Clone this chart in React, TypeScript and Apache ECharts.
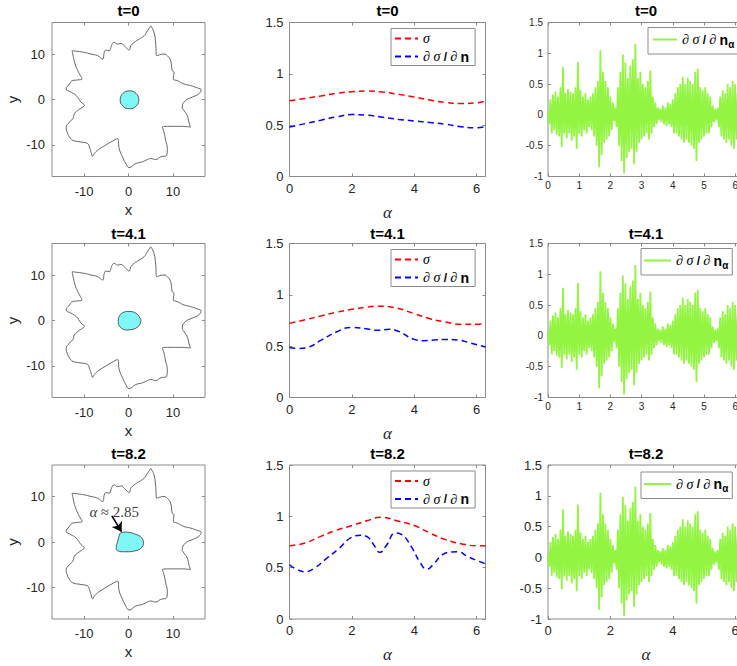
import React, { useEffect, useRef } from "react";
import * as echarts from "echarts";

// ---------- data ----------
const TITLES = ["t=0", "t=4.1", "t=8.2"];

// outer boundary (same in the three snapshots)
const STAR: [number, number][] = [
  [5.0, 16.26], [5.74, 14.8], [6.12, 12.23], [6.34, 9.67], [7.98, 10.04], [8.72, 9.67],
  [9.47, 8.57], [9.84, 6.37], [10.22, 6.0], [10.07, 4.54], [10.96, 4.18], [12.45, 3.44],
  [13.94, 3.08], [15.44, 2.56], [16.33, 2.12], [15.81, 1.25], [14.32, 0.51], [12.83, -0.22],
  [12.08, -1.68], [12.45, -2.42], [13.2, -3.52], [13.57, -4.98], [13.94, -6.08], [11.71, -5.93],
  [9.47, -5.93], [7.61, -6.08], [7.98, -7.18], [8.35, -9.01], [8.72, -10.84], [8.58, -12.31],
  [7.23, -12.67], [6.11, -13.26], [5.0, -13.04], [4.25, -13.26], [3.13, -13.77], [1.64, -14.14],
  [0.15, -15.02], [-0.6, -14.14], [-1.34, -12.67], [-2.09, -10.84], [-2.46, -8.64], [-3.95, -9.38],
  [-5.82, -10.48], [-6.94, -11.21], [-7.68, -11.94], [-8.05, -12.53], [-8.43, -11.58], [-8.8, -10.48],
  [-9.17, -9.74], [-10.66, -9.38], [-12.53, -9.01], [-13.27, -8.28], [-13.8, -7.18], [-14.02, -6.23],
  [-13.27, -4.98], [-12.53, -4.25], [-12.15, -3.15], [-11.41, -2.42], [-10.29, -1.68], [-9.92, -1.32],
  [-10.66, -0.59], [-11.78, 0.88], [-12.9, 1.61], [-14.02, 2.34], [-13.27, 3.44], [-12.53, 4.18],
  [-11.41, 4.32], [-10.44, 4.54], [-10.81, 5.27], [-11.41, 6.37], [-12.01, 7.84], [-12.38, 9.3],
  [-12.68, 10.77], [-11.41, 10.62], [-9.92, 10.4], [-8.43, 10.04], [-6.94, 9.67], [-5.82, 8.94],
  [-5.44, 10.4], [-5.07, 10.92], [-4.33, 10.77], [-3.95, 11.5], [-3.58, 12.38], [-3.21, 12.6],
  [-2.46, 12.23], [-1.72, 12.38], [-0.97, 11.87], [-0.37, 11.28], [0.15, 10.92], [0.52, 11.87],
  [1.27, 12.6], [2.39, 13.33], [3.5, 14.07], [4.25, 15.16],
];

// inner drop
const BLOB_T0: [number, number][] = [
  [0.22, 1.91], [1.7, 1.33], [2.31, -0.07], [1.7, -1.47], [0.22, -2.05], [-1.26, -1.47], [-1.87, -0.07], [-1.26, 1.33],
];
const BLOB_T41: [number, number][] = [
  [0.15, 2.0], [1.64, 1.63], [2.61, 0.52], [2.76, -0.22], [2.01, -1.48], [0.15, -2.07],
  [-1.34, -1.85], [-2.09, -1.11], [-2.31, -0.22], [-2.09, 0.89], [-1.34, 1.7],
];
const BLOB_T82: [number, number][] = [
  [-1.86, 1.93], [-0.22, 2.15], [1.64, 1.7], [2.91, 0.96], [3.36, -0.3], [2.76, -1.41],
  [1.27, -2.0], [-0.6, -2.15], [-2.46, -1.93], [-2.76, -1.19], [-2.46, 0.07], [-2.16, 1.19],
];
const BLOBS = [BLOB_T0, BLOB_T41, BLOB_T82];

const ANNOT_TEXT_POS: [number, number] = [-3.22, 6.67];
const ANNOT_ARROW_FROM: [number, number] = [-3.74, 5.78];
const ANNOT_ARROW_TO: [number, number] = [-1.57, 2.29];

// sigma and d sigma / d n along alpha
const SIGMA_T0: [number, number][] = [
  [0, 0.738], [0.5, 0.76], [1, 0.785], [1.5, 0.81], [2, 0.825], [2.5, 0.832], [3, 0.822], [3.5, 0.8],
  [4, 0.775], [4.5, 0.745], [5, 0.722], [5.5, 0.71], [6, 0.718], [6.283, 0.735],
];
const DSDN_T0: [number, number][] = [
  [0, 0.483], [0.5, 0.515], [1, 0.548], [1.5, 0.58], [2, 0.603], [2.5, 0.597], [3, 0.577], [3.5, 0.556],
  [4, 0.541], [4.5, 0.526], [5, 0.509], [5.5, 0.485], [6, 0.474], [6.283, 0.486],
];
const SIGMA_T41: [number, number][] = [
  [0, 0.722], [0.5, 0.757], [1, 0.794], [1.5, 0.83], [2, 0.859], [2.5, 0.882], [2.8, 0.89], [3.3, 0.879],
  [4, 0.817], [4.5, 0.768], [5, 0.735], [5.5, 0.713], [6, 0.713], [6.283, 0.72],
];
const DSDN_T41: [number, number][] = [
  [0, 0.488], [0.3, 0.478], [0.6, 0.49], [1, 0.556], [1.5, 0.638], [2, 0.683], [2.5, 0.668], [2.8, 0.654],
  [3.2, 0.664], [3.5, 0.644], [4, 0.566], [4.3, 0.553], [4.7, 0.562], [5, 0.566], [5.4, 0.56], [5.8, 0.53],
  [6.283, 0.491],
];
const SIGMA_T82: [number, number][] = [
  [0, 0.714], [0.5, 0.74], [1, 0.805], [1.5, 0.864], [2, 0.91], [2.5, 0.959], [2.9, 0.99], [3.5, 0.952],
  [4, 0.91], [4.5, 0.838], [5, 0.773], [5.5, 0.734], [6, 0.714], [6.283, 0.714],
];
const DSDN_T82: [number, number][] = [
  [0, 0.528], [0.25, 0.48], [0.5, 0.46], [0.8, 0.496], [1.2, 0.593], [1.6, 0.691], [2, 0.796], [2.3, 0.815],
  [2.5, 0.799], [2.7, 0.724], [2.9, 0.649], [3.1, 0.714], [3.4, 0.838], [3.6, 0.822], [3.9, 0.707], [4.2, 0.544],
  [4.4, 0.486], [4.6, 0.528], [4.9, 0.626], [5.2, 0.652], [5.4, 0.655], [5.7, 0.61], [6, 0.571], [6.283, 0.538],
];
const SIGMAS = [SIGMA_T0, SIGMA_T41, SIGMA_T82];
const DSDNS = [DSDN_T0, DSDN_T41, DSDN_T82];

// d sigma / d n_alpha sampled every NOISE_STEP in alpha
const NOISE_STEP = 0.04;
const NOISE: number[] = [
  0.05, -0.15, 0.25, -0.3, 0.33, -0.25, 0.38, -0.32, 0.3, -0.35,
  0.45, -0.52, 0.78, -0.3, 0.35, -0.38, 0.42, -0.3, 0.38, -0.42,
  0.35, -0.35, 0.45, -0.55, 0.86, -0.3, 0.4, -0.35, 0.3, -0.25,
  0.35, -0.3, 0.25, -0.2, 0.3, -0.25, 0.35, -0.35, 0.45, -0.5,
  0.55, -0.85, 1.05, -0.65, 0.7, -0.45, 0.55, -0.4, 0.45, -0.35,
  0.3, -0.25, 0.2, -0.1, 0.12, -0.2, 0.45, -0.5, 0.7, -0.75,
  0.98, -0.95, 0.85, -0.7, 0.6, -0.6, 0.8, -0.55, 0.9, -0.8,
  1.15, -0.6, 0.6, -0.45, 0.7, -0.4, 0.5, -0.35, 0.45, -0.3,
  0.55, -0.4, 0.72, -0.3, 0.3, -0.2, 0.2, -0.15, 0.12, -0.08,
  0.1, -0.12, 0.15, -0.15, 0.12, -0.18, 0.2, -0.15, 0.18, -0.2,
  0.25, -0.3, 0.35, -0.3, 0.45, -0.35, 0.5, -0.4, 0.62, -0.45,
  0.5, -0.4, 0.6, -0.45, 0.55, -0.5, 0.5, -0.55, 0.7, -0.75,
  0.75, -0.45, 0.45, -0.4, 0.4, -0.35, 0.45, -0.3, 0.35, -0.3,
  0.3, -0.2, 0.15, -0.12, 0.1, -0.08, 0.12, -0.2, 0.3, -0.35,
  0.4, -0.4, 0.35, -0.45, 0.5, -0.4, 0.45, -0.5, 0.55, -0.55,
  0.5, -0.4, 0.35, -0.3, 0.25, -0.2, 0.15, 0.05,
];

const SHAPE_TICKS = [-10, 0, 10];
const ALPHA_TICKS = [0, 2, 4, 6];
const ALPHA_TICKS_FINE = [0, 1, 2, 3, 4, 5, 6];
const SIGMA_TICKS = [0, 0.5, 1, 1.5];
const NOISE_TICKS = [-1, -0.5, 0, 0.5, 1, 1.5];

// ---------- layout / style ----------
const LEFTS = [52, 289.5, 548];
const WIDTHS = [153, 196, 196];
const TOPS = [22.5, 243.5, 465];
const HEIGHT = 154;
const TITLE_Y = [10.5, 233, 453.3];
const AX = "#8a8a8a";
const TXT = "#262626";
const SANS = '"Liberation Sans", Arial, Helvetica, sans-serif';
const SERIF = '"Liberation Serif", "Times New Roman", serif';
const CYAN = "#80f7f7";
const GREEN = "#93f542";

const RICH = {
  i: { fontFamily: SERIF, fontStyle: "italic", fontSize: 14, color: "#000" },
  s: { fontFamily: SANS, fontSize: 12, fontWeight: "bold", color: "#000" },
  b: { fontFamily: SANS, fontSize: 14, fontWeight: "bold", color: "#000" },
  sub: { fontFamily: SANS, fontSize: 10, fontWeight: "bold", color: "#000", verticalAlign: "bottom", padding: [9, 0, 0, 0] },
};

function legendFormatter(name: string) {
  if (name === "σ") return "{i|σ}";
  if (name === "dsdn") return "{i|∂ σ} {s|/} {i|∂} {b|n}";
  return "{i|∂ σ} {s|/} {i|∂} {b|n}{sub|α}";
}

function buildOption() {
  const grid: any[] = [];
  const xAxis: any[] = [];
  const yAxis: any[] = [];
  const series: any[] = [];
  const legend: any[] = [];
  const graphic: any[] = [];

  for (let r = 0; r < 3; r++) {
    for (let c = 0; c < 3; c++) {
      const g = r * 3 + c;
      grid.push({
        left: LEFTS[c], top: TOPS[r], width: WIDTHS[c], height: HEIGHT,
        show: true, borderColor: AX, borderWidth: 1, backgroundColor: "#fff",
      });
      const small = c === 2 && r < 2;
      const fs = small ? 10 : 13;
      let xr: number[], yr: number[], xt: number[], yt: number[];
      let xname = "", yname = "";
      let xNameStyle: any = {};
      let xGap = 25;
      let xMargin = 5, yMargin = 6;
      if (c === 0) {
        xr = [-17.2, 17.2]; yr = [-17, 17]; xt = SHAPE_TICKS; yt = SHAPE_TICKS;
        xname = "x"; yname = "y";
        xNameStyle = { fontFamily: SANS, fontSize: 15, color: TXT };
        xMargin = 8; yMargin = 7;
      } else if (c === 1) {
        xr = [0, 2 * Math.PI]; yr = [0, 1.5]; xt = ALPHA_TICKS; yt = SIGMA_TICKS;
        xname = "α";
        xNameStyle = { fontFamily: SERIF, fontStyle: "italic", fontSize: 17, color: TXT };
        xGap = 27;
      } else {
        xr = [0, 2 * Math.PI]; yr = [-1, 1.5];
        xt = small ? ALPHA_TICKS_FINE : ALPHA_TICKS; yt = NOISE_TICKS;
        if (!small) {
          xname = "α";
          xNameStyle = { fontFamily: SERIF, fontStyle: "italic", fontSize: 17, color: TXT };
          xGap = 27;
        }
        xMargin = small ? 4 : 5; yMargin = small ? 5 : 6;
      }
      const tick = (vals: number[]) => ({ inside: true, length: 3, lineStyle: { color: AX, width: 1 }, customValues: vals });
      xAxis.push({
        type: "value", gridIndex: g, position: "bottom", min: xr[0], max: xr[1],
        axisLine: { show: false, onZero: false }, splitLine: { show: false }, axisTick: tick(xt),
        axisLabel: { customValues: xt, fontSize: fs, color: TXT, fontFamily: SANS, margin: xMargin },
        name: xname, nameLocation: "middle", nameGap: xGap, nameTextStyle: xNameStyle,
      });
      xAxis.push({
        type: "value", gridIndex: g, position: "top", min: xr[0], max: xr[1],
        axisLine: { show: false, onZero: false }, splitLine: { show: false }, axisTick: tick(xt), axisLabel: { show: false },
      });
      yAxis.push({
        type: "value", gridIndex: g, position: "left", min: yr[0], max: yr[1],
        axisLine: { show: false, onZero: false }, splitLine: { show: false }, axisTick: tick(yt),
        axisLabel: { customValues: yt, fontSize: fs, color: TXT, fontFamily: SANS, margin: yMargin },
        name: yname, nameLocation: "middle", nameGap: 32,
        nameTextStyle: { fontFamily: SANS, fontSize: 15, color: TXT },
      });
      yAxis.push({
        type: "value", gridIndex: g, position: "right", min: yr[0], max: yr[1],
        axisLine: { show: false, onZero: false }, splitLine: { show: false }, axisTick: tick(yt), axisLabel: { show: false },
      });
      const xi = 2 * g, yi = 2 * g;

      graphic.push({
        type: "text", x: LEFTS[c] + WIDTHS[c] / 2, y: TITLE_Y[r], silent: true,
        style: { text: TITLES[r], font: `bold 15px ${SANS}`, fill: "#000", align: "center", verticalAlign: "middle", textAlign: "center", textVerticalAlign: "middle" },
      });

      if (c === 0) {
        series.push({
          type: "line", xAxisIndex: xi, yAxisIndex: yi, data: STAR.concat([STAR[0]]),
          symbol: "none", smooth: 0.5, lineStyle: { color: "#555", width: 0.9 }, silent: true, z: 2,
        });
        const blob = BLOBS[r];
        series.push({
          type: "custom", xAxisIndex: xi, yAxisIndex: yi, data: [[0, 0]], silent: true, z: 3,
          renderItem: (_p: any, api: any) => ({
            type: "polygon",
            shape: { points: blob.map((pt) => api.coord(pt)), smooth: 0.45 },
            style: { fill: CYAN, stroke: "#333", lineWidth: 0.8 },
          }),
        });
        if (r === 2) {
          series.push({
            type: "scatter", xAxisIndex: xi, yAxisIndex: yi, data: [ANNOT_TEXT_POS], symbolSize: 1,
            itemStyle: { color: "rgba(0,0,0,0)" }, silent: true, z: 5,
            label: {
              show: true, position: "inside", formatter: "{a|α} {b|≈ 2.85}",
              rich: {
                a: { fontFamily: SERIF, fontStyle: "italic", fontSize: 15, color: "#000" },
                b: { fontFamily: SERIF, fontSize: 15, color: "#000" },
              },
            },
            markLine: {
              silent: true, symbol: ["none", "arrow"], symbolSize: 9, animation: false,
              label: { show: false },
              lineStyle: { color: "#000", width: 1.6, type: "solid" },
              data: [[{ coord: ANNOT_ARROW_FROM }, { coord: ANNOT_ARROW_TO }]],
            },
          });
        }
      } else if (c === 1) {
        series.push({
          name: "σ", type: "line", xAxisIndex: xi, yAxisIndex: yi, data: SIGMAS[r], symbol: "none", smooth: 0.5,
          lineStyle: { color: "#ff0000", width: 1.5, type: [6, 4] }, itemStyle: { color: "#ff0000" },
        });
        series.push({
          name: "dsdn", type: "line", xAxisIndex: xi, yAxisIndex: yi, data: DSDNS[r], symbol: "none", smooth: 0.5,
          lineStyle: { color: "#0000ff", width: 1.5, type: [6, 4] }, itemStyle: { color: "#0000ff" },
        });
        legend.push({
          data: ["σ", "dsdn"], left: 391, top: TOPS[r] + 6, orient: "vertical",
          itemWidth: 23, itemHeight: 14, itemGap: 4, padding: [3, 6, 2, 3],
          backgroundColor: "#fff", borderColor: "#8c8c8c", borderWidth: 1, borderRadius: 0,
          formatter: legendFormatter, textStyle: { rich: RICH, color: "#000" }, selectedMode: false,
          itemStyle: { opacity: 0 },
        });
      } else {
        series.push({
          name: "dsdn_a", type: "line", xAxisIndex: xi, yAxisIndex: yi,
          data: NOISE.map((v, i) => [i * NOISE_STEP, v]), symbol: "none",
          lineStyle: { color: GREEN, width: 1.8 }, itemStyle: { color: GREEN },
        });
        legend.push({
          data: ["dsdn_a"], left: r === 0 ? 648 : 641, top: TOPS[r] + (r === 2 ? 7 : 5), orient: "vertical",
          itemWidth: r === 0 ? 24 : 27, itemHeight: 14, padding: [5, 4, 5, r === 0 ? 4 : 2],
          backgroundColor: "#fff", borderColor: "#8c8c8c", borderWidth: 1, borderRadius: 0,
          formatter: legendFormatter, textStyle: { rich: RICH, color: "#000" }, selectedMode: false,
          lineStyle: { width: 2 }, itemStyle: { opacity: 0 },
        });
      }
    }
  }

  return { animation: false, backgroundColor: "#fff", grid, xAxis, yAxis, series, legend, graphic };
}

export default function App() {
  const ref = useRef<HTMLDivElement>(null);
  useEffect(() => {
    const chart = echarts.init(ref.current!, null, { renderer: "svg" });
    chart.setOption(buildOption() as any);
    return () => chart.dispose();
  }, []);
  return (
    <div style={{ position: "fixed", left: 0, top: 0, width: 737, height: 666, overflow: "hidden", background: "#fff" }}>
      <div ref={ref} style={{ width: 780, height: 666 }} />
    </div>
  );
}
